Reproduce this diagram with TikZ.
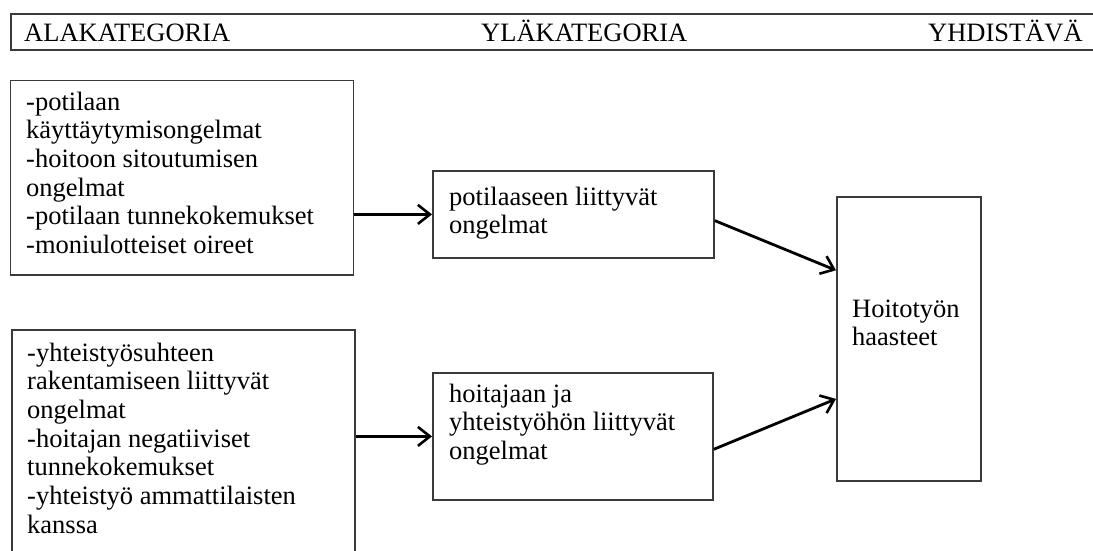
\documentclass[tikz,border=0pt]{standalone}
\usepackage{fontspec}
\setmainfont{Liberation Serif}
\usetikzlibrary{arrows.meta,calc}
\definecolor{boxgray}{HTML}{3A3A3A}
\begin{document}
\begin{tikzpicture}[x=1pt,y=-1pt,
  box/.style={draw=boxgray, line width=1.8pt, fill=white, anchor=north west, inner sep=0pt},
  txt/.style={anchor=base west, inner sep=0pt, font=\fontsize{26.5}{28.7}\selectfont},
  arr/.style={draw=black, line width=2.8pt, -{Straight Barb[length=12pt,width=19pt,line width=2.6pt]}}]
\clip (0,0) rectangle (1093,550);
\fill[white] (0,0) rectangle (1093,550);
% header
\node[box, minimum width=1100pt, minimum height=36pt] (hdr) at (10,13) {};
\node[txt] (h1) at (24,41) {ALAKATEGORIA};
\node[txt] (h2) at (481,41) {YLÄKATEGORIA};
\node[txt] (h3) at (928,41) {YHDISTÄVÄ};
% boxes
\node[box, minimum width=343pt, minimum height=194.5pt] (b1) at (9.5,79.5) {};
\node[box, minimum width=343pt, minimum height=280pt] (b3) at (11,329) {};
\node[box, minimum width=281pt, minimum height=87pt] (b2) at (432,170) {};
\node[box, minimum width=280pt, minimum height=127pt] (b4) at (432,372) {};
\node[box, minimum width=144pt, minimum height=284pt] (b5) at (836,196) {};
% texts
\node[txt] (t1) at (26,110) {\parbox[t]{320pt}{\raggedright
-potilaan\\
käyttäytymisongelmat\\
-hoitoon sitoutumisen\\
ongelmat\\
-potilaan tunnekokemukset\\
-moniulotteiset oireet}};
\node[txt] (t3) at (27,361) {\parbox[t]{320pt}{\raggedright
-yhteistyösuhteen\\
rakentamiseen liittyvät\\
ongelmat\\
-hoitajan negatiiviset\\
tunnekokemukset\\
-yhteistyö ammattilaisten\\
kanssa}};
\node[txt] (t2) at (449,205) {\parbox[t]{260pt}{\raggedright
potilaaseen liittyvät\\
ongelmat}};
\node[txt] (t4) at (449,402) {\parbox[t]{260pt}{\raggedright
hoitajaan ja\\
yhteistyöhön liittyvät\\
ongelmat}};
\node[txt] (t5) at (852,317) {\parbox[t]{120pt}{\raggedright
Hoitotyön\\
haasteet}};
% arrows
\draw[arr] (b1.east |- b2.west) -- (b2.west);
\draw[arr] (b3.east |- b4.west) -- (b4.west);
\coordinate (s3) at ($(b2.north east)!0.57!(b2.south east)$);
\coordinate (e3) at ($(b5.north west)!0.26!(b5.south west)$);
\coordinate (s4) at ($(b4.north east)!0.6!(b4.south east)$);
\coordinate (e4) at ($(b5.north west)!0.71!(b5.south west)$);
\draw[arr] (s3) -- (e3);
\draw[arr] (s4) -- (e4);
\end{tikzpicture}
\end{document}
